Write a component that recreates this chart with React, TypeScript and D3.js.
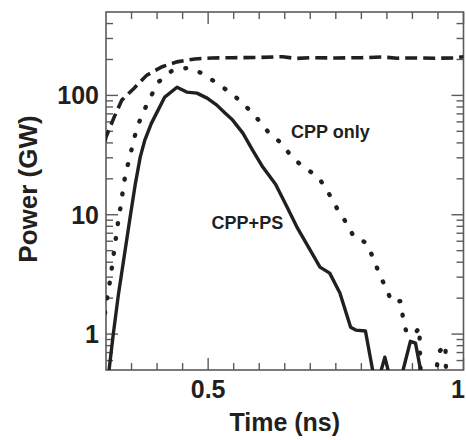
import React from 'react';
import * as d3 from 'd3';

const W = 466;
const H = 440;
const PLOT = { left: 106, right: 463.5, top: 12, bottom: 370 };

// Time axis (ns)
const xDomain = [0.3, 1.0];
const xMajorTicks = [0.5, 1.0];
const xMajorLabels = ['0.5', '1'];

// Power axis (GW), log
const yDomain = [0.5, 500];
const yMajorTicks = [1, 10, 100];
const yMajorLabels = ['1', '10', '100'];

// CPP+PS (solid)
const cppPsTime = [0.302, 0.306, 0.314, 0.324, 0.337, 0.347, 0.357, 0.367, 0.376, 0.389, 0.402, 0.415, 0.439, 0.458, 0.478, 0.498, 0.517, 0.533, 0.548, 0.568, 0.587, 0.607, 0.632, 0.654, 0.675, 0.719, 0.738, 0.758, 0.779, 0.789, 0.808, 0.824, 0.836, 0.846, 0.855, 0.879, 0.896, 0.906, 0.918];
const cppPsPower = [0.4, 0.5, 0.98, 2.1, 4.9, 9.4, 17.7, 30.4, 42.2, 58.6, 75.3, 96.8, 117, 106.6, 104.5, 94.9, 82.9, 71.1, 62.1, 48.3, 34.8, 25.1, 18.0, 11.7, 7.72, 3.64, 3.24, 2.21, 1.14, 1.08, 1.06, 0.45, 0.45, 0.64, 0.45, 0.45, 0.87, 0.84, 0.45];

// CPP only (dotted)
const cppOnlyTime = [0.298, 0.300, 0.3045, 0.3098, 0.3131, 0.3176, 0.3209, 0.3254, 0.3307, 0.3338, 0.3391, 0.3469, 0.3534, 0.3612, 0.3718, 0.3874, 0.4031, 0.4285, 0.459, 0.4891, 0.5176, 0.5458, 0.5718, 0.5959, 0.6174, 0.6436, 0.6663, 0.6911, 0.7151, 0.7327, 0.7523, 0.7673, 0.7855, 0.8098, 0.8227, 0.8344, 0.8475, 0.8598, 0.8769, 0.8813, 0.888, 0.9042, 0.914, 0.9141, 0.9150, 0.9165, 0.945, 0.9478, 0.9512, 0.9648, 0.9650, 0.9670];
const cppOnlyPower = [1.5, 1.75, 2.29, 3.12, 4.16, 5.46, 7.29, 9.6, 13.3, 17.1, 22.9, 30.6, 40.8, 54.5, 70.6, 97.3, 130, 160, 170, 153, 126, 104, 82.9, 64.2, 49.5, 39.6, 29.6, 24.4, 20.8, 16.1, 11.3, 9.0, 6.53, 5.81, 4.39, 3.26, 2.46, 1.86, 1.89, 1.39, 1.04, 1.0, 1.14, 0.85, 0.64, 0.4, 0.4, 0.53, 0.70, 0.82, 0.6, 0.4];

// Reference (dashed)
const refTime = [0.298, 0.300, 0.316, 0.331, 0.355, 0.380, 0.410, 0.439, 0.474, 0.507, 0.55, 0.60, 0.646, 0.672, 0.70, 0.75, 0.80, 0.842, 0.87, 0.90, 0.95, 0.98, 1.0];
const refPower = [41, 44.8, 65.8, 91.3, 115, 148, 174, 191, 202, 206, 207, 208, 211, 204, 207, 206, 207, 210, 205, 206, 205, 206, 211];

const labels = [
  { text: 'CPP only', t: 0.6623, p: 44, anchor: 'start' },
  { text: 'CPP+PS', t: 0.5068, p: 7.6, anchor: 'start' },
];

const INK = '#231f20';
const AXIS = '#5a5a5a';

export default function App() {
  const x = d3.scaleLinear().domain(xDomain).range([PLOT.left, PLOT.right]);
  const y = d3.scaleLog().domain(yDomain).range([PLOT.bottom, PLOT.top]);

  const xMinor = d3.range(0.35, 0.96, 0.05).filter((t) => Math.abs(t - 0.5) > 1e-6);
  const yMinor: number[] = [];
  [0.1, 1, 10, 100].forEach((d) => {
    for (let k = 2; k <= 9; k++) {
      const v = d * k;
      if (v > yDomain[0] + 1e-9 && v < yDomain[1] - 1e-9) yMinor.push(v);
    }
  });

  const line = d3
    .line<[number, number]>()
    .x((d) => x(d[0]))
    .y((d) => y(d[1]));

  const solid = line(cppPsTime.map((t, i) => [t, cppPsPower[i]] as [number, number])) || '';
  const dotted = line(cppOnlyTime.map((t, i) => [t, cppOnlyPower[i]] as [number, number])) || '';
  const dashed = line(refTime.map((t, i) => [t, refPower[i]] as [number, number])) || '';

  const minorLen = 7;
  const majorLen = 12;

  return (
    <svg
      width={W}
      height={H}
      style={{ position: 'absolute', left: 0, top: 0, background: '#fff' }}
      fontFamily="'Liberation Sans', Arial, Helvetica, sans-serif"
      fontWeight="bold"
    >
      <defs>
        <clipPath id="plotClip">
          <rect x={PLOT.left} y={PLOT.top} width={PLOT.right - PLOT.left} height={PLOT.bottom - PLOT.top} />
        </clipPath>
      </defs>

      {/* ticks */}
      <g stroke={AXIS} strokeWidth={1.4}>
        {xMinor.map((t, i) => (
          <g key={'xm' + i}>
            <line x1={x(t)} x2={x(t)} y1={PLOT.bottom} y2={PLOT.bottom - minorLen} />
            <line x1={x(t)} x2={x(t)} y1={PLOT.top} y2={PLOT.top + minorLen} />
          </g>
        ))}
        {xMajorTicks.map((t, i) => (
          <g key={'xM' + i}>
            <line x1={x(t)} x2={x(t)} y1={PLOT.bottom} y2={PLOT.bottom - majorLen} />
            <line x1={x(t)} x2={x(t)} y1={PLOT.top} y2={PLOT.top + majorLen} />
          </g>
        ))}
        {yMinor.map((v, i) => (
          <g key={'ym' + i}>
            <line x1={PLOT.left} x2={PLOT.left + minorLen} y1={y(v)} y2={y(v)} />
            <line x1={PLOT.right} x2={PLOT.right - minorLen} y1={y(v)} y2={y(v)} />
          </g>
        ))}
        {yMajorTicks.map((v, i) => (
          <g key={'yM' + i}>
            <line x1={PLOT.left} x2={PLOT.left + majorLen} y1={y(v)} y2={y(v)} />
            <line x1={PLOT.right} x2={PLOT.right - majorLen} y1={y(v)} y2={y(v)} />
          </g>
        ))}
      </g>

      {/* frame */}
      <rect
        x={PLOT.left}
        y={PLOT.top}
        width={PLOT.right - PLOT.left}
        height={PLOT.bottom - PLOT.top}
        fill="none"
        stroke={AXIS}
        strokeWidth={1.6}
      />

      {/* curves */}
      <g clipPath="url(#plotClip)" fill="none" stroke={INK}>
        <path d={dashed} strokeWidth={3.6} strokeDasharray="12,6" />
        <path d={dotted} strokeWidth={4.4} strokeDasharray="0.8,14.2" strokeLinecap="round" />
        <path d={solid} strokeWidth={3.4} strokeLinejoin="round" />
      </g>

      {/* tick labels */}
      <g fill={INK} fontSize={25}>
        {yMajorTicks.map((v, i) => (
          <text key={'yl' + i} x={99} y={y(v)} dy="0.36em" textAnchor="end">
            {yMajorLabels[i]}
          </text>
        ))}
        {xMajorTicks.map((t, i) => (
          <text
            key={'xl' + i}
            x={i === xMajorTicks.length - 1 ? W - 1 : x(t)}
            y={398}
            textAnchor={i === xMajorTicks.length - 1 ? 'end' : 'middle'}
          >
            {xMajorLabels[i]}
          </text>
        ))}
      </g>

      {/* axis titles */}
      <text x={(PLOT.left + PLOT.right) / 2} y={431} textAnchor="middle" fontSize={25} fill={INK}>
        Time (ns)
      </text>
      <text
        transform={`translate(37, ${(PLOT.top + PLOT.bottom) / 2 - 2}) rotate(-90)`}
        textAnchor="middle"
        fontSize={26}
        fill={INK}
      >
        Power (GW)
      </text>

      {/* annotations */}
      <g fill={INK} fontSize={18}>
        {labels.map((l, i) => (
          <text key={'lab' + i} x={x(l.t)} y={y(l.p)} textAnchor={l.anchor as any}>
            {l.text}
          </text>
        ))}
      </g>
    </svg>
  );
}
